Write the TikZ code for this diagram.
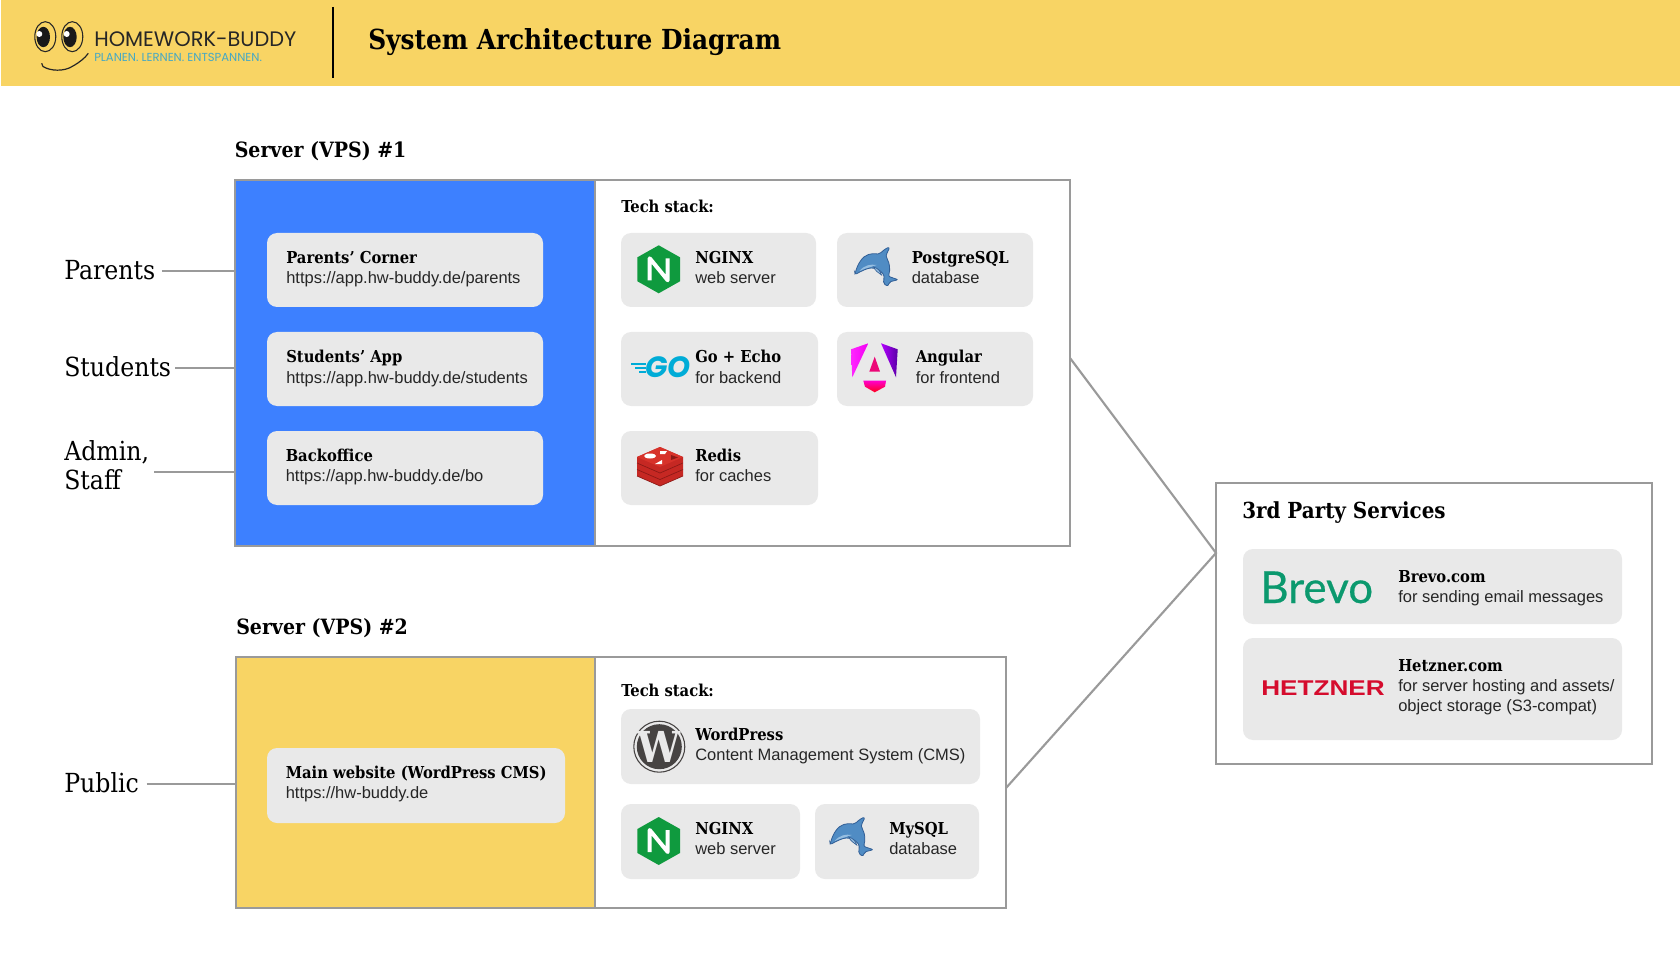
\documentclass[tikz,border=0pt]{standalone}
\usepackage{fontspec}
\usepackage{xcolor}
\setmainfont{Liberation Sans}
\newfontfamily\serifhd{DejaVu Serif Condensed}
\newfontfamily\logohd{Poppins}
\newfontfamily\brevohd[FakeBold=0.5]{Lato}
\definecolor{banner}{HTML}{F8D464}
\definecolor{panelblue}{HTML}{3D80FF}
\definecolor{cardgray}{HTML}{E9E9E9}
\definecolor{framegray}{HTML}{9A9A9A}
\definecolor{nginxgreen}{HTML}{0F9A3E}
\definecolor{dolphinline}{HTML}{325F96}
\definecolor{dolphinfill}{HTML}{508CC4}
\definecolor{dolphinpale}{HTML}{96BEE1}
\definecolor{gocyan}{HTML}{00ACD7}
\definecolor{redisred}{HTML}{C62823}
\definecolor{redisdark}{HTML}{8C1916}
\definecolor{redistop}{HTML}{D7322A}
\definecolor{wpgray}{HTML}{464342}
\definecolor{taglineblue}{HTML}{46A8C4}
\definecolor{brevogreen}{HTML}{0B996E}
\definecolor{hetznerred}{HTML}{D50C2D}
\tikzset{
  frame/.style={draw=framegray,line width=1.6pt,fill=white,anchor=north west,inner sep=0pt,outer sep=0pt},
  card/.style={fill=cardgray,rounded corners=7.5pt,anchor=north west,inner sep=0pt,outer sep=0pt},
  sized/.style 2 args={minimum width=#1*0.75pt,minimum height=#2*0.75pt},
  link/.style={draw=framegray,line width=1.6pt},
  cardtitle/.style={anchor=base west,inner sep=0pt,font=\serifhd\bfseries\fontsize{12.3}{14}\selectfont},
  cardsub/.style={anchor=base west,inner sep=0pt,font=\fontsize{12.36}{14}\selectfont,text=black!85},
  heading/.style={anchor=base west,inner sep=0pt,font=\serifhd\bfseries\fontsize{15.8}{18}\selectfont},
  actor/.style={anchor=west,inner sep=0pt,text height=14.4pt,text depth=1.5pt,font=\serifhd\fontsize{19.7}{21.75}\selectfont},
  pics/nginxlogo/.style={code={
    \fill [nginxgreen] (0,-24) -- (21.3,-12) -- (21.3,12) -- (0,24) -- (-21.3,12) -- (-21.3,-12) -- cycle ;
    \draw [white,line width=3pt,line join=round] (-9,11) -- (-9,-11) -- (9,11) -- (9,-11) ;
  }},
  pics/dolphinlogo/.style={code={
    \draw [draw=dolphinline,fill=dolphinfill,line width=0.6pt,rounded corners=1.5pt] (-21.7,6.7) .. controls (-19,-4) and (-14,-12) .. (-6,-14) .. controls (-2,-14.5) and (1,-14) .. (3.3,-14) .. controls (6,-17) and (10,-20) .. (13.3,-20.7) .. controls (11,-16) and (9.5,-13) .. (10,-10) .. controls (13,-5) and (14,2) .. (11.7,8.3) -- (21.7,11.7) -- (12.5,14) -- (11.7,18.3) -- (6.7,15.7) -- (7.7,10) .. controls (7,5) and (2,1) .. (-3.3,0) .. controls (-9,0) and (-15,3) .. (-21.7,6.7) -- cycle ;
    \fill [dolphinpale] (-17,3) .. controls (-12,-3) and (-6,-4) .. (0,-3) .. controls (-5,-1) and (-11,0) .. (-17,3) -- cycle ;
    \draw [draw=dolphinline,fill=dolphinpale,line width=0.5pt] (-3,-1) .. controls (1,0) and (4,3) .. (5,7) .. controls (2,5) and (-1,3) .. (-3,-1) -- cycle ;
  }}
}
\begin{document}
\begin{tikzpicture}[x=0.75pt,y=0.75pt,yscale=-1]
\useasboundingbox (0,0) rectangle (1680,962);

%Shape: Banner
\fill [banner] (1,0) rectangle (1680,86);
\draw [black,line width=1.5pt] (333,7) -- (333,78);
\node (title) [anchor=base west,inner sep=0pt,font=\serifhd\bfseries\fontsize{20.7}{26}\selectfont] at (368,49.5) {System Architecture Diagram};

%Logo
\draw [black!85,line width=0.8pt] (45.3,36.7) ellipse (10.5 and 15);
\draw [black!85,line width=0.8pt] (72.3,36.7) ellipse (10.5 and 15);
\fill [black!90] (43.3,37) ellipse (6.7 and 10.2);
\fill [black!90] (70,37) ellipse (6.7 and 10.2);
\fill [white] (39.3,34) circle (3);
\fill [white] (66.7,34) circle (3);
\draw [black!85,line width=0.9pt] (41.7,63.3) -- (43,66.5) .. controls (50,71) and (64,72) .. (73,66) .. controls (80,62) and (85,58) .. (88.3,53.3);
\node (logoname) [anchor=base west,inner sep=0pt,text=black!85,font=\logohd\fontsize{15.7}{18}\selectfont] at (94,47) {HOMEWORK-BUDDY};
\node (logotag) [anchor=base west,inner sep=0pt,text=taglineblue,font=\logohd\fontsize{8.7}{11}\selectfont] at (94,62) {PLANEN. LERNEN. ENTSPANNEN.};

%Shape: Frames
\node (srvone) [frame,sized={835}{366}] at (235,180) {};
\node (pnlone) [frame,sized={360}{366},fill=panelblue] at (235,180) {};
\node (srvtwo) [frame,sized={770}{251}] at (236,657) {};
\node (pnltwo) [frame,sized={359}{251},fill=banner] at (236,657) {};
\node (third) [frame,sized={436}{281}] at (1216,483) {};

% Text Node
\node (hdone) [heading] at (234.5,158) {Server (VPS) \#1};
\node (hdtwo) [heading] at (236,634) {Server (VPS) \#2};
\node (hdthird) [heading,font=\serifhd\bfseries\fontsize{16.6}{18}\selectfont] at (1242,518.5) {3rd Party Services};

%Actors
\node (parents) [actor] at (64,271) {Parents};
\node (students) [actor] at (64,368) {Students};
\node (admin) [actor,text height=,text depth=,align=left] at (64,465.5) {Admin,\\Staff};
\node (public) [actor] at (64,784) {Public};

%Straight Lines
\coordinate (lnkadmin) at (64,472);
\draw [link] ([xshift=4.8pt]parents.east) -- (parents.east -| srvone.west);
\draw [link] ([xshift=3pt]students.east) -- (students.east -| srvone.west);
\draw [link] ([xshift=3.5pt]admin.east |- lnkadmin) -- (srvone.west |- lnkadmin);
\draw [link] ([xshift=5.6pt]public.east) -- (public.east -| srvtwo.west);
\coordinate (lnkone) at (1070,358);
\coordinate (lnktwo) at (1006,788);
\coordinate (lnkthird) at (1216,553);
\draw [link] (lnkone) -- (lnkthird) -- (lnktwo);

%App cards
\node (crdparents) [card,sized={276}{74}] at (267,233) {};
\node (crdstudents) [card,sized={276}{74}] at (267,332) {};
\node (crdbo) [card,sized={276}{74}] at (267,431) {};
\node (crdmain) [card,sized={298}{75}] at (267,748) {};
\node (ttparents) [cardtitle] at (286,264) {Parents’ Corner};
\node (subparents) [cardsub] at (286,284) {https://app.hw-buddy.de/parents};
\node (ttstudents) [cardtitle] at (286,363) {Students’ App};
\node (substudents) [cardsub] at (286,383) {https://app.hw-buddy.de/students};
\node (ttbo) [cardtitle] at (285.5,461.5) {Backoffice};
\node (subbo) [cardsub] at (285.5,481.5) {https://app.hw-buddy.de/bo};
\node (ttmain) [cardtitle] at (285.5,778.5) {Main website (WordPress CMS)};
\node (submain) [cardsub] at (285.5,798.5) {https://hw-buddy.de};

%Tech stack #1
\node (tsone) [cardtitle] at (621,212.5) {Tech stack:};
\node (crdnginx) [card,sized={195}{74}] at (621,233) {};
\node (crdpg) [card,sized={196}{74}] at (837,233) {};
\node (crdgo) [card,sized={197}{74}] at (621,332) {};
\node (crdng) [card,sized={196}{74}] at (837,332) {};
\node (crdredis) [card,sized={197}{74}] at (621,431) {};
\node (ttnginx) [cardtitle] at (695,264) {NGINX};
\node (subnginx) [cardsub] at (695,284) {web server};
\node (ttpg) [cardtitle] at (911.5,264) {PostgreSQL};
\node (subpg) [cardsub] at (911.5,284) {database};
\node (ttgo) [cardtitle] at (695,363) {Go + Echo};
\node (subgo) [cardsub] at (695,383) {for backend};
\node (ttng) [cardtitle] at (915.5,363) {Angular};
\node (subng) [cardsub] at (915.5,383) {for frontend};
\node (ttredis) [cardtitle] at (695,461.5) {Redis};
\node (subredis) [cardsub] at (695,481.5) {for caches};

%Tech stack #2
\node (tstwo) [cardtitle] at (621,696) {Tech stack:};
\node (crdwp) [card,sized={359}{75}] at (621,709) {};
\node (crdnginxb) [card,sized={179}{75}] at (621,804) {};
\node (crdmysql) [card,sized={164}{75}] at (815,804) {};
\node (ttwp) [cardtitle] at (695,740) {WordPress};
\node (subwp) [cardsub] at (695,760) {Content Management System (CMS)};
\node (ttnginxb) [cardtitle] at (695,834.5) {NGINX};
\node (subnginxb) [cardsub] at (695,854.5) {web server};
\node (ttmysql) [cardtitle] at (889,834.5) {MySQL};
\node (submysql) [cardsub] at (889,854.5) {database};

%3rd party
\node (crdbrevo) [card,sized={379}{75}] at (1243,549) {};
\node (crdhetz) [card,sized={379}{102}] at (1243,638) {};
\node (ttbrevo) [cardtitle] at (1398,582) {Brevo.com};
\node (subbrevo) [cardsub] at (1398,602.5) {for sending email messages};
\node (tthetz) [cardtitle] at (1398,671) {Hetzner.com};
\node (subhetz) [cardsub] at (1398,691.5) {for server hosting and assets/};
\node (subhetzb) [cardsub] at (1398,711.5) {object storage (S3-compat)};
\node (logobrevo) [anchor=base west,inner sep=0pt,text=brevogreen,font=\brevohd\fontsize{33}{40}\selectfont] at (1260,603) {Brevo};
\node (logohetz) [anchor=base west,inner sep=0pt,text=hetznerred,font=\bfseries\fontsize{16}{18}\selectfont] at (1261,695) {\scalebox{1.225}[1]{HETZNER}};

%Logos
\pic [transform shape] at (658.7,269.3) {nginxlogo};
\pic [transform shape] at (658.7,841) {nginxlogo};
\pic [transform shape] at (876.5,268) {dolphinlogo};
\pic [transform shape] at (851.7,838) {dolphinlogo};

%Go
\node (logogo) [anchor=base,inner sep=0pt,text=gocyan,font=\logohd\bfseries\itshape\fontsize{22}{26}\selectfont] at (668,378) {GO};
\draw [gocyan,line width=0.9pt] (631,364) -- (646,364) (635,368) -- (646,368) (639,372) -- (646,372);

%Angular
\shade [left color=magenta!85!white,right color=magenta!90!violet] (868.3,343.3) -- (851,349.3) -- (852.3,377.3) -- cycle;
\shade [left color=magenta!70!blue,right color=violet!70!blue] (881,343.3) -- (897.7,349.3) -- (896,377.3) -- cycle;
\fill [magenta!80!red] (874.7,356.7) -- (869.3,371.7) -- (880,371.7) -- cycle;
\shade [top color=magenta!80!red,bottom color=red!90!magenta] (863.3,380.7) -- (886,380.7) -- (885,386.7) -- (874.7,392.3) -- (865,386.7) -- cycle;

%Redis
\foreach \ly in {13,6.5,0} {
  \fill [redisred] (660,{447+\ly}) -- (683,{457+\ly}) -- (683,{463+\ly}) -- (660,{473+\ly}) -- (637,{463+\ly}) -- (637,{457+\ly}) -- cycle;
  \draw [redisdark,line width=0.5pt] (637,{463+\ly}) -- (660,{473+\ly}) -- (683,{463+\ly});
}
\fill [redistop] (660,447) -- (683,457) -- (660,467) -- (637,457) -- cycle;
\fill [white] (650,456) ellipse (6 and 2.5);
\fill [white] (660,451) -- (667,451) -- (665,454) -- (660,454) -- cycle;
\fill [white] (655,464) -- (662,460) -- (662,464) -- cycle;
\fill [redisdark] (671,455) -- (678,457.5) -- (671,460) -- cycle;

%WordPress
\draw [wpgray,line width=0.8pt] (659.3,746.7) circle (25.5);
\fill [wpgray] (659.3,746.7) circle (22.5);
\node (logowp) [inner sep=0pt,text=cardgray,font=\serifhd\bfseries\fontsize{32}{33}\selectfont] at (659.3,746.7) {W};
\end{tikzpicture}
\end{document}
